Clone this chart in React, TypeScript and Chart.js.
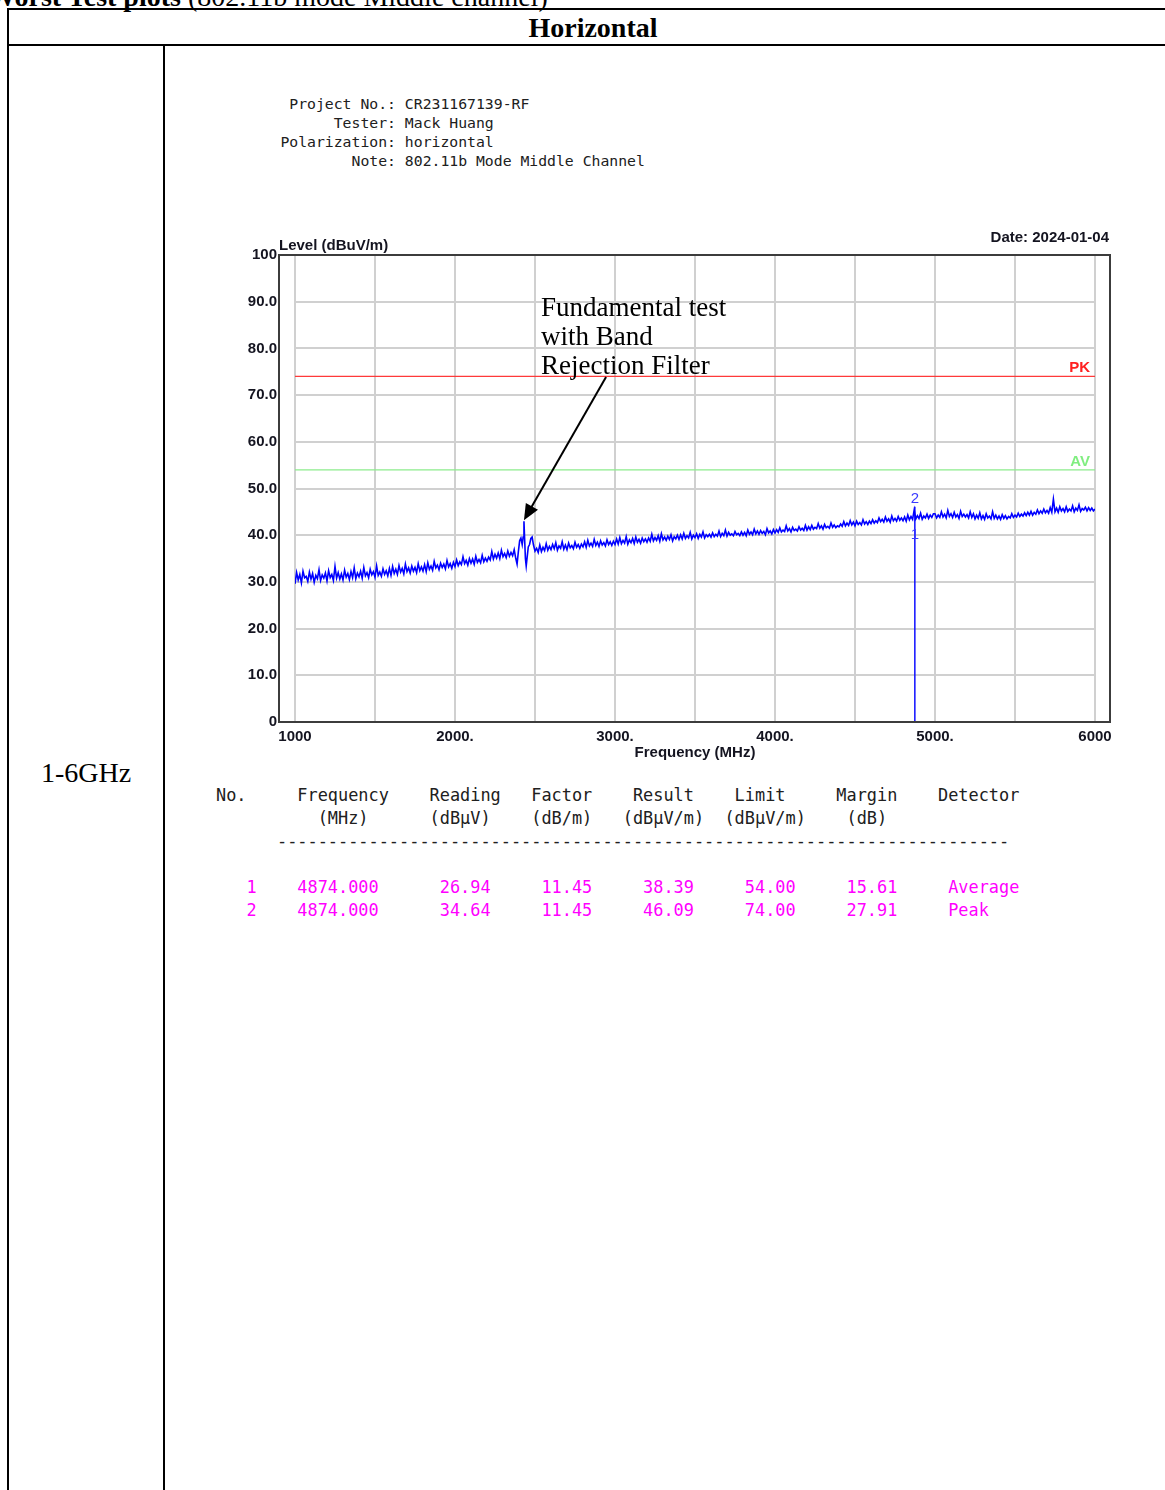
import React, { useEffect, useRef } from 'react';
import { Chart, registerables } from 'chart.js';

Chart.register(...registerables);

// ---------------- data ----------------
const traceStepMHz = 10;
// trace readings from 1000 MHz to 2370 MHz (10 MHz step)
const traceLowStartMHz = 1000;
const traceLowLevels = [
  29.6, 32.0, 30.4, 31.6, 29.8, 32.3, 30.9, 31.2, 30.1, 32.1, 30.6, 31.8, 29.9, 31.4, 30.7, 32.6, 30.3, 31.5, 30.8, 31.9,
  30.2, 32.4, 30.9, 31.6, 30.3, 33.3, 30.8, 32.0, 30.6, 31.7, 30.4, 32.5, 31.0, 31.8, 30.5, 32.2, 30.9, 33.0, 30.7, 31.9,
  31.1, 32.3, 30.8, 33.1, 31.3, 32.0, 30.9, 32.7, 31.5, 32.2, 31.0, 33.4, 31.4, 32.1, 31.2, 32.8, 31.6, 32.4, 31.3, 32.9,
  31.4, 33.3, 31.8, 32.7, 31.6, 33.5, 32.1, 32.9, 31.7, 33.8, 32.2, 33.0, 31.9, 33.4, 32.3, 33.1, 32.0, 33.9, 32.4, 33.2,
  32.3, 33.7, 32.2, 34.1, 32.7, 33.4, 32.5, 34.4, 33.0, 33.6, 32.6, 34.0, 33.1, 33.8, 32.8, 34.6, 33.2, 33.9, 32.9, 34.2,
  33.3, 34.7, 33.5, 34.3, 33.7, 35.4, 33.9, 34.6, 33.6, 35.0, 34.0, 34.9, 33.8, 35.5, 34.2, 34.8, 34.1, 35.7, 34.3, 35.1,
  34.4, 35.3, 34.7, 36.5, 34.9, 35.9, 35.1, 36.2, 35.0, 36.8, 35.4, 36.1, 35.2, 36.6, 35.5, 36.3, 35.6, 36.9,
];
// finer readings around the 2.4 GHz fundamental (band-rejection notch region)
const spikeFreqs = [2380, 2388, 2396, 2404, 2412, 2420, 2426, 2431, 2436, 2440, 2445, 2450, 2458, 2466, 2474, 2482, 2490, 2500];
const spikeLevels = [35.0, 33.8, 36.5, 38.8, 39.4, 38.0, 39.6, 43.0, 38.5, 35.0, 33.4, 35.0, 37.5, 38.0, 39.3, 39.6, 38.0, 36.6];
// trace readings from 2510 MHz to 6000 MHz (10 MHz step)
const traceHighStartMHz = 2510;
const traceHighLevels = [
  37.2, 36.3, 37.9, 36.5, 37.4, 36.7, 38.2, 36.8, 37.6,
  36.9, 38.0, 37.1, 38.4, 36.8, 37.7, 37.2, 38.6, 37.0, 37.9, 36.9, 38.3, 37.3, 37.8, 37.1, 38.5, 37.4, 38.0, 37.2, 38.1,
  37.5, 38.6, 37.4, 38.9, 37.7, 38.3, 37.6, 39.1, 37.8, 38.5, 37.6, 38.8, 37.9, 38.4, 37.7, 39.0, 38.0, 38.6, 37.8, 38.7,
  38.0, 39.2, 38.1, 39.5, 38.2, 38.9, 38.3, 39.7, 38.1, 39.0, 38.4, 39.3, 38.2, 39.6, 38.5, 39.1, 38.3, 39.4, 38.6, 39.2,
  38.5, 39.4, 38.7, 40.2, 38.8, 39.5, 38.9, 39.9, 38.7, 40.3, 39.0, 39.6, 38.9, 39.8, 39.1, 40.1, 38.8, 39.7, 39.2, 40.0,
  39.1, 40.1, 39.2, 40.4, 39.3, 39.9, 39.4, 40.6, 39.2, 40.0, 39.5, 40.3, 39.3, 40.2, 39.6, 40.7, 39.4, 40.1, 39.7, 40.2,
  39.6, 40.5, 39.7, 40.2, 39.8, 40.9, 39.7, 40.4, 39.9, 41.1, 39.8, 40.6, 40.0, 40.3, 39.9, 40.8, 40.1, 40.4, 39.9, 40.7,
  40.0, 40.6, 39.9, 41.1, 40.2, 40.7, 40.1, 41.3, 40.3, 40.9, 40.2, 41.0, 40.4, 40.8, 40.1, 41.4, 40.5, 40.9, 40.3, 41.2,
  40.5, 41.2, 40.6, 41.6, 40.7, 41.1, 40.8, 42.0, 40.9, 41.4, 40.7, 41.7, 41.0, 41.3, 40.9, 41.8, 41.1, 41.5, 41.0, 42.1,
  41.1, 41.8, 41.2, 42.1, 41.3, 41.7, 41.4, 42.5, 41.5, 42.0, 41.3, 42.3, 41.6, 41.9, 41.5, 42.6, 41.7, 42.2, 41.6, 42.0,
  41.8, 42.4, 41.9, 42.9, 42.0, 42.6, 42.1, 43.1, 42.2, 42.8, 42.0, 43.0, 42.3, 42.7, 42.2, 43.3, 42.4, 42.9, 42.3, 43.0,
  42.5, 43.3, 42.6, 43.1, 42.7, 43.7, 42.9, 43.4, 42.8, 43.9, 43.0, 43.5, 42.8, 44.1, 43.1, 43.6, 43.0, 44.0, 43.2, 43.7,
  43.1, 43.9, 43.0, 44.3, 43.3, 44.0, 43.4, 45.4, 43.5, 44.2, 43.6, 44.7, 43.4, 44.1, 43.7, 44.5, 43.6, 44.3, 43.8, 44.6,
  44.6, 43.7, 44.3, 43.8, 45.0, 43.9, 44.5, 43.7, 45.3, 44.0, 44.6, 43.8, 44.9, 43.9, 44.4, 43.6, 45.1, 44.0, 44.5, 43.9,
  44.4, 43.7, 45.0, 43.8, 44.6, 43.5, 44.3, 43.6, 44.8, 43.5, 44.2, 43.4, 44.6, 43.7, 44.1, 43.5, 45.0, 43.6, 44.3, 43.5,
  44.1, 43.4, 44.4, 43.6, 44.2, 43.5, 44.0, 43.7, 44.6, 43.8, 44.3, 43.9, 44.7, 44.0, 44.5, 44.1, 44.8, 44.2, 44.9, 44.3,
  45.1, 44.3, 44.9, 44.5, 45.4, 44.6, 45.2, 44.7, 45.6, 44.8, 45.3, 44.7, 45.9, 44.9, 47.7, 45.0, 45.8, 44.9, 46.1, 45.2,
  45.7, 45.0, 46.1, 45.1, 45.6, 45.2, 46.3, 45.0, 45.8, 45.3, 46.5, 45.1, 45.7, 45.4, 46.0, 45.2, 45.9, 45.3, 45.8, 45.2,
  45.6,
];

const limitFreqs = [1000, 6000];
const pkLimit = 74;
const avLimit = 54;

const markerNo = ['1', '2'];
const markerFreq = [4874.0, 4874.0];
const markerReading = [26.94, 34.64];
const markerFactor = [11.45, 11.45];
const markerResult = [38.39, 46.09];
const markerLimit = [54.0, 74.0];
const markerMargin = [15.61, 27.91];
const markerDetector = ['Average', 'Peak'];

const xTickValues = [1000, 2000, 3000, 4000, 5000, 6000];
const xTickLabels = ['1000', '2000.', '3000.', '4000.', '5000.', '6000'];
const yTickValues = [0, 10, 20, 30, 40, 50, 60, 70, 80, 90, 100];
const yTickLabels = ['0', '10.0', '20.0', '30.0', '40.0', '50.0', '60.0', '70.0', '80.0', '90.0', '100'];

const infoLabels = ['Project No.:', 'Tester:', 'Polarization:', 'Note:'];
const infoValues = ['CR231167139-RF', 'Mack Huang', 'horizontal', '802.11b Mode Middle Channel'];

const annotationLines = ['Fundamental test', 'with Band', 'Rejection Filter'];
const annotationAnchor = [2538, 87.0];
const arrowTail = [2944, 73.9];
const arrowHead = [2431, 43.2];

// ---------------- helpers ----------------
function placeCols(items: [string, number][]): string {
  let s = '';
  for (const [text, col] of items) {
    while (s.length < col) s += ' ';
    s += text;
  }
  return s;
}

const headerLine1 = placeCols([
  ['No.', 0], ['Frequency', 8], ['Reading', 21], ['Factor', 31], ['Result', 41], ['Limit', 51], ['Margin', 61], ['Detector', 71],
]);
const headerLine2 = placeCols([
  ['(MHz)', 10], ['(dBµV)', 21], ['(dB/m)', 31], ['(dBµV/m)', 40], ['(dBµV/m)', 50], ['(dB)', 62],
]);
const dashLine = placeCols([['-'.repeat(72), 6]]);
const dataLines = markerNo.map((n, i) =>
  placeCols([
    [n, 3],
    [markerFreq[i].toFixed(3), 8],
    [markerReading[i].toFixed(2), 22],
    [markerFactor[i].toFixed(2), 32],
    [markerResult[i].toFixed(2), 42],
    [markerLimit[i].toFixed(2), 52],
    [markerMargin[i].toFixed(2), 62],
    [markerDetector[i], 72],
  ])
);
const infoLines = infoLabels.map((l, i) => l.padStart(13, ' ') + ' ' + infoValues[i]);

function buildTrace() {
  const pts: { x: number; y: number }[] = [];
  traceLowLevels.forEach((v, i) => pts.push({ x: traceLowStartMHz + i * traceStepMHz, y: v }));
  spikeFreqs.forEach((f, i) => pts.push({ x: f, y: spikeLevels[i] }));
  traceHighLevels.forEach((v, i) => pts.push({ x: traceHighStartMHz + i * traceStepMHz, y: v }));
  pts.sort((a, b) => a.x - b.x);
  return pts;
}

const overlayPlugin = {
  id: 'overlay',
  afterDraw(chart: any) {
    const { ctx, chartArea: a } = chart;
    const xs = chart.scales.x;
    const ys = chart.scales.y;
    ctx.save();
    // frame
    ctx.strokeStyle = '#3c3c3c';
    ctx.lineWidth = 2;
    ctx.strokeRect(a.left - 16, a.top, a.right + 15 - (a.left - 16), a.bottom - a.top);

    // axis texts
    ctx.fillStyle = '#141420';
    ctx.font = 'bold 15px "Liberation Sans"';
    ctx.textBaseline = 'alphabetic';
    ctx.textAlign = 'left';
    ctx.fillText('Level (dBuV/m)', a.left - 16, a.top - 5);
    ctx.textAlign = 'right';
    ctx.fillText('Date: 2024-01-04', a.right + 14, a.top - 13);
    ctx.textAlign = 'center';
    ctx.fillText('Frequency (MHz)', (a.left + a.right) / 2, a.bottom + 35);

    // limit labels
    ctx.textAlign = 'right';
    ctx.fillStyle = '#ff2020';
    ctx.fillText('PK', a.right - 5, ys.getPixelForValue(pkLimit) - 4);
    ctx.fillStyle = '#80ee80';
    ctx.fillText('AV', a.right - 5, ys.getPixelForValue(avLimit) - 4);

    // marker labels
    ctx.font = '15px "Liberation Sans"';
    ctx.fillStyle = '#3a3aff';
    ctx.textAlign = 'center';
    markerNo.forEach((n, i) => {
      ctx.fillText(n, xs.getPixelForValue(markerFreq[i]), ys.getPixelForValue(markerResult[i]) - 4);
    });

    // arrow
    const hx = xs.getPixelForValue(arrowHead[0]);
    const hy = ys.getPixelForValue(arrowHead[1]);
    const tx = xs.getPixelForValue(arrowTail[0]);
    const ty = ys.getPixelForValue(arrowTail[1]);
    const ang = Math.atan2(hy - ty, hx - tx);
    const c = Math.cos(ang);
    const s = Math.sin(ang);
    ctx.strokeStyle = '#000';
    ctx.lineWidth = 2;
    ctx.beginPath();
    ctx.moveTo(tx, ty);
    ctx.lineTo(hx - c * 12, hy - s * 12);
    ctx.stroke();
    ctx.fillStyle = '#000';
    ctx.beginPath();
    ctx.moveTo(hx, hy);
    ctx.lineTo(hx - c * 16 - s * 7, hy - s * 16 + c * 7);
    ctx.lineTo(hx - c * 16 + s * 7, hy - s * 16 - c * 7);
    ctx.closePath();
    ctx.fill();

    // annotation text
    ctx.font = '27px "Liberation Serif"';
    ctx.textAlign = 'left';
    ctx.fillStyle = '#000';
    const ax = xs.getPixelForValue(annotationAnchor[0]);
    const ay = ys.getPixelForValue(annotationAnchor[1]);
    annotationLines.forEach((line, i) => ctx.fillText(line, ax, ay + i * 29));

    ctx.restore();
  },
};

function SpectrumChart() {
  const ref = useRef<HTMLCanvasElement | null>(null);
  useEffect(() => {
    if (!ref.current) return;
    const tickFont = { family: 'Liberation Sans', size: 15, weight: 'bold' as const };
    const chart = new Chart(ref.current, {
      type: 'line',
      data: {
        datasets: [
          {
            data: buildTrace(),
            borderColor: '#0000ff',
            borderWidth: 1.6,
            pointRadius: 0,
            tension: 0,
          },
          {
            data: limitFreqs.map((f) => ({ x: f, y: pkLimit })),
            borderColor: '#ff3a3a',
            borderWidth: 1.3,
            pointRadius: 0,
          },
          {
            data: limitFreqs.map((f) => ({ x: f, y: avLimit })),
            borderColor: '#8cec8c',
            borderWidth: 1.3,
            pointRadius: 0,
          },
          {
            data: [
              { x: markerFreq[1], y: markerResult[1] },
              { x: markerFreq[1], y: 0 },
            ],
            borderColor: '#1010ff',
            borderWidth: 1.5,
            pointRadius: 0,
          },
        ],
      },
      options: {
        responsive: false,
        animation: false,
        layout: { padding: { top: 35, right: 45, left: 0, bottom: 0 } },
        plugins: { legend: { display: false }, tooltip: { enabled: false } },
        scales: {
          x: {
            type: 'linear',
            min: 1000,
            max: 6000,
            ticks: {
              stepSize: 500,
              autoSkip: false,
              maxRotation: 0,
              padding: 6,
              color: '#141420',
              font: tickFont,
              callback: (v: any) => {
                const i = xTickValues.indexOf(Number(v));
                return i >= 0 ? xTickLabels[i] : '';
              },
            },
            grid: { color: '#d0d0d0', lineWidth: 2, drawTicks: false },
            border: { display: false },
            afterFit: (s: any) => {
              s.height = 58;
            },
          },
          y: {
            type: 'linear',
            min: 0,
            max: 100,
            ticks: {
              stepSize: 10,
              padding: 18,
              color: '#141420',
              font: tickFont,
              callback: (v: any) => {
                const i = yTickValues.indexOf(Number(v));
                return i >= 0 ? yTickLabels[i] : '';
              },
            },
            grid: { color: '#d0d0d0', lineWidth: 2, drawTicks: false },
            border: { display: false },
            afterFit: (s: any) => {
              s.width = 95;
            },
          },
        },
      },
      plugins: [overlayPlugin],
    } as any);
    return () => chart.destroy();
  }, []);
  return (
    <canvas
      ref={ref}
      width={940}
      height={560}
      style={{ position: 'absolute', left: 200, top: 220, width: 940, height: 560 }}
    />
  );
}

export default function App() {
  const serif = '"Liberation Serif", "Times New Roman", serif';
  const mono = '"DejaVu Sans Mono", monospace';
  const line = (extra: React.CSSProperties): React.CSSProperties => ({
    position: 'absolute',
    background: '#000',
    ...extra,
  });
  return (
    <div
      style={{
        position: 'fixed',
        left: 0,
        top: 0,
        width: 1165,
        height: 1490,
        overflow: 'hidden',
        background: '#fff',
      }}
    >
      <div
        style={{
          position: 'absolute',
          left: -12,
          top: -17,
          fontFamily: serif,
          fontSize: 28,
          lineHeight: '28px',
          whiteSpace: 'nowrap',
          color: '#000',
        }}
      >
        <b>Worst Test plots</b> (802.11b mode Middle channel)
      </div>

      {/* table borders */}
      <div style={line({ left: 7, top: 8, width: 1200, height: 2 })} />
      <div style={line({ left: 7, top: 8, width: 2, height: 1500 })} />
      <div style={line({ left: 7, top: 44, width: 1200, height: 2 })} />
      <div style={line({ left: 163, top: 44, width: 2, height: 1500 })} />

      <div
        style={{
          position: 'absolute',
          left: 8,
          width: 1170,
          top: 14,
          textAlign: 'center',
          fontFamily: serif,
          fontWeight: 'bold',
          fontSize: 28,
          lineHeight: '28px',
          color: '#000',
        }}
      >
        Horizontal
      </div>

      <div
        style={{
          position: 'absolute',
          left: 8,
          width: 156,
          top: 758.5,
          textAlign: 'center',
          fontFamily: serif,
          fontSize: 28,
          lineHeight: '28px',
          color: '#000',
        }}
      >
        1-6GHz
      </div>

      {/* info block */}
      <div
        style={{
          position: 'absolute',
          left: 280.4,
          top: 94,
          fontFamily: mono,
          fontSize: 14.78,
          lineHeight: '19px',
          whiteSpace: 'pre',
          color: '#202020',
        }}
      >
        {infoLines.map((l, i) => (
          <div key={i}>{l}</div>
        ))}
      </div>

      <SpectrumChart />

      {/* marker table */}
      <div
        style={{
          position: 'absolute',
          left: 216,
          top: 784,
          fontFamily: mono,
          fontSize: 16.9,
          lineHeight: '23px',
          whiteSpace: 'pre',
          color: '#202020',
        }}
      >
        <div>{headerLine1}</div>
        <div>{headerLine2}</div>
        <div>{dashLine}</div>
        <div>{' '}</div>
        {dataLines.map((l, i) => (
          <div key={i} style={{ color: '#ff00ff' }}>
            {l}
          </div>
        ))}
      </div>
    </div>
  );
}
